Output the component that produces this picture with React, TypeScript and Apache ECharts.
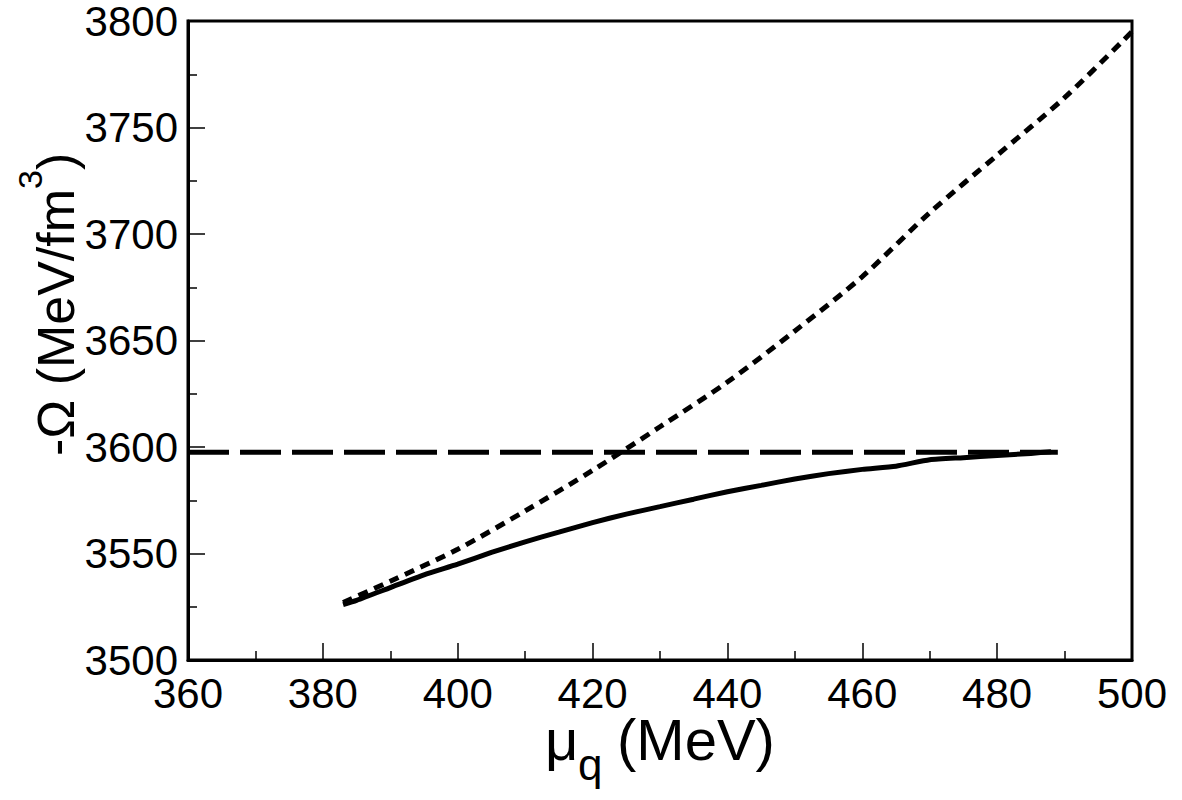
import React, { useEffect, useRef } from "react";
import * as echarts from "echarts";

const FONT = "'Liberation Sans', Arial, Helvetica, sans-serif";

// x ticks / y ticks
const X_MIN = 360;
const X_MAX = 500;
const X_STEP = 20;
const Y_MIN = 3500;
const Y_MAX = 3800;
const Y_STEP = 50;

// solid curve
const muSolid = [383, 385, 390, 395, 400, 405, 410, 415, 420, 425, 430, 435, 440, 445, 450, 455, 460, 465, 470, 475, 480, 485, 488];
const omegaSolid = [3526, 3528, 3534, 3540, 3545, 3550.5, 3555.5, 3560, 3564.5, 3568.5, 3572, 3575.5, 3579, 3582, 3585, 3587.5, 3589.5, 3591, 3594, 3595, 3596, 3597, 3597.8];

// dotted curve
const muDotted = [383, 390, 400, 410, 420, 430, 440, 450, 460, 470, 480, 490, 500];
const omegaDotted = [3527, 3537, 3552, 3570, 3589, 3609.5, 3630.5, 3654.5, 3680, 3710, 3737, 3764, 3795];

// dashed constant
const muDashed = [360, 489];
const omegaDashed = [3597.5, 3597.5];

function zip(a: number[], b: number[]) {
  return a.map((v, i) => [v, b[i]]);
}

function measure(text: string, size: number) {
  const c = document.createElement("canvas");
  const ctx = c.getContext("2d")!;
  ctx.font = `${size}px ${FONT}`;
  return ctx.measureText(text).width;
}

// convert alphabetic baseline to middle anchor
const mid = (baseline: number, size: number) => baseline - 0.35 * size;

export default function App() {
  const ref = useRef<HTMLDivElement>(null);
  useEffect(() => {
    document.body.style.margin = "0";
    const chart = echarts.init(ref.current!, null, { renderer: "svg" });
    const yMain = "-Ω (MeV/fm";
    const yFs = 52;
    const supFs = 34;
    const w1 = measure(yMain, yFs);
    const w3 = measure("3", supFs);
    const tStyle = (text: string, size: number) => ({
      text,
      fontSize: size,
      fontFamily: FONT,
      fill: "#000",
      verticalAlign: "middle",
      align: "left",
    });
    chart.setOption({
      animation: false,
      backgroundColor: "#fff",
      grid: {
        left: 188,
        top: 20,
        right: 50,
        bottom: 140,
        show: true,
        borderColor: "#000",
        borderWidth: 3,
        backgroundColor: "transparent",
      },
      xAxis: {
        type: "value",
        min: X_MIN,
        max: X_MAX,
        interval: X_STEP,
        axisLine: { show: true, onZero: false, lineStyle: { color: "#000", width: 3 } },
        axisTick: { show: true, inside: true, length: 17, lineStyle: { color: "#000", width: 1.5 } },
        minorTick: { show: true, splitNumber: 2, length: 9, lineStyle: { color: "#000", width: 1.5 } },
        splitLine: { show: false },
        axisLabel: {
          color: "#000",
          fontSize: 42,
          fontFamily: FONT,
          margin: 12,
          showMinLabel: true,
          showMaxLabel: true,
          hideOverlap: false,
          formatter: (v: number) => String(v),
        },
      },
      yAxis: {
        type: "value",
        min: Y_MIN,
        max: Y_MAX,
        interval: Y_STEP,
        axisLine: { show: true, onZero: false, lineStyle: { color: "#000", width: 3 } },
        axisTick: { show: true, inside: true, length: 17, lineStyle: { color: "#000", width: 1.5 } },
        minorTick: { show: true, splitNumber: 2, length: 9, lineStyle: { color: "#000", width: 1.5 } },
        splitLine: { show: false },
        axisLabel: {
          color: "#000",
          fontSize: 42,
          fontFamily: FONT,
          margin: 10,
          showMinLabel: true,
          showMaxLabel: true,
          hideOverlap: false,
          formatter: (v: number) => String(v),
        },
      },
      series: [
        {
          type: "line",
          data: zip(muDashed, omegaDashed),
          showSymbol: false,
          symbol: "none",
          lineStyle: { color: "#000", width: 5, type: [41, 11], cap: "butt" },
          z: 2,
        },
        {
          type: "line",
          data: zip(muDotted, omegaDotted),
          showSymbol: false,
          symbol: "none",
          smooth: 0.3,
          lineStyle: { color: "#000", width: 5, type: [10, 7], cap: "butt" },
          z: 3,
        },
        {
          type: "line",
          data: zip(muSolid, omegaSolid),
          showSymbol: false,
          symbol: "none",
          smooth: 0.2,
          lineStyle: { color: "#000", width: 5 },
          z: 4,
        },
      ],
      graphic: [
        { type: "text", x: 545, y: mid(760, 58), style: tStyle("μ", 58) },
        { type: "text", x: 578, y: mid(780, 44), style: tStyle("q", 44) },
        { type: "text", x: 617, y: mid(760, 58), style: tStyle("(MeV)", 58) },
        {
          type: "group",
          x: 74,
          y: 456,
          rotation: Math.PI / 2,
          children: [
            { type: "text", x: 0, y: mid(0, yFs), style: tStyle(yMain, yFs) },
            { type: "text", x: w1, y: mid(-32, supFs), style: tStyle("3", supFs) },
            { type: "text", x: w1 + w3, y: mid(0, yFs), style: tStyle(")", yFs) },
          ],
        },
      ],
    });
    return () => chart.dispose();
  }, []);
  return <div ref={ref} style={{ position: "fixed", left: 0, top: 0, width: 1182, height: 800 }} />;
}
